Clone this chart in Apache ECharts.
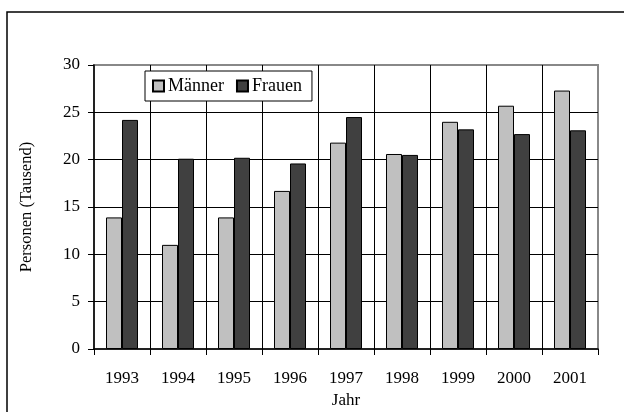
<!DOCTYPE html>
<html>
<head>
<meta charset="utf-8">
<script src="https://cdn.jsdelivr.net/npm/echarts@6/dist/echarts.min.js"></script>
<style>
  html, body { margin: 0; padding: 0; background: #fff; }
  #main { width: 624px; height: 412px; }
</style>
</head>
<body>
<div id="main"></div>
<script>
// Daten
var jahre = ["1993", "1994", "1995", "1996", "1997", "1998", "1999", "2000", "2001"];
var maenner = [13.9, 11.0, 13.9, 16.7, 21.8, 20.6, 24.0, 25.7, 27.3];
var frauen = [24.2, 20.1, 20.2, 19.6, 24.5, 20.5, 23.2, 22.7, 23.1];
var yTicks = [0, 5, 10, 15, 20, 25, 30];

var font = "'Liberation Serif', 'Times New Roman', serif";
var myChart = echarts.init(document.getElementById("main"));

var option = {
  backgroundColor: "#fff",
  animation: false,
  textStyle: { fontFamily: font, color: "#000" },
  graphic: [
    {
      type: "rect",
      shape: { x: 7, y: 12, width: 700, height: 500 },
      style: { fill: "none", stroke: "#000", lineWidth: 1.5 },
      silent: true
    }
  ],
  legend: {
    left: 145,
    top: 71,
    orient: "horizontal",
    backgroundColor: "#fff",
    borderColor: "#000",
    borderWidth: 1,
    padding: [6, 10, 6, 7],
    itemWidth: 11,
    itemHeight: 11,
    itemGap: 12,
    icon: "rect",
    textStyle: { fontFamily: font, fontSize: 18, color: "#000", padding: [0, 0, 0, -1] },
    data: ["Männer", "Frauen"]
  },
  grid: {
    left: 94,
    top: 65,
    right: 26,
    bottom: 63,
    outerBoundsMode: "none",
    containLabel: false,
    show: true,
    borderColor: "#888",
    borderWidth: 2,
    backgroundColor: "#fff"
  },
  xAxis: {
    type: "category",
    data: jahre,
    name: "Jahr",
    nameLocation: "middle",
    nameGap: 40,
    nameTextStyle: { fontFamily: font, fontSize: 17, color: "#000" },
    axisLine: { lineStyle: { color: "#000", width: 1.5 } },
    axisTick: { show: true, length: 6, inside: false, lineStyle: { color: "#000" } },
    axisLabel: { fontFamily: font, fontSize: 17, color: "#000", margin: 21 },
    splitLine: { show: true, showMinLine: false, showMaxLine: false, lineStyle: { color: "#000", width: 1 } }
  },
  yAxis: {
    type: "value",
    min: 0,
    max: 30,
    interval: 5,
    name: "Personen (Tausend)",
    nameLocation: "middle",
    nameGap: 59,
    nameTextStyle: { fontFamily: font, fontSize: 16.5, color: "#000" },
    axisLine: { show: true, lineStyle: { color: "#000", width: 1.5 } },
    axisTick: { show: true, length: 6, inside: false, lineStyle: { color: "#000" } },
    axisLabel: {
      fontFamily: font, fontSize: 17, color: "#000", margin: 14,
      formatter: function (v) { return yTicks.indexOf(v) >= 0 ? String(v) : ""; }
    },
    splitLine: { show: true, showMinLine: false, showMaxLine: false, lineStyle: { color: "#000", width: 1 } }
  },
  series: [
    {
      name: "Männer",
      type: "bar",
      data: maenner,
      barWidth: 16,
      barGap: "0%",
      itemStyle: { color: "#c0c0c0", borderColor: "#000", borderWidth: 1 }
    },
    {
      name: "Frauen",
      type: "bar",
      data: frauen,
      barWidth: 16,
      barGap: "0%",
      itemStyle: { color: "#404040", borderColor: "#000", borderWidth: 1 }
    }
  ]
};

myChart.setOption(option);
</script>
</body>
</html>
